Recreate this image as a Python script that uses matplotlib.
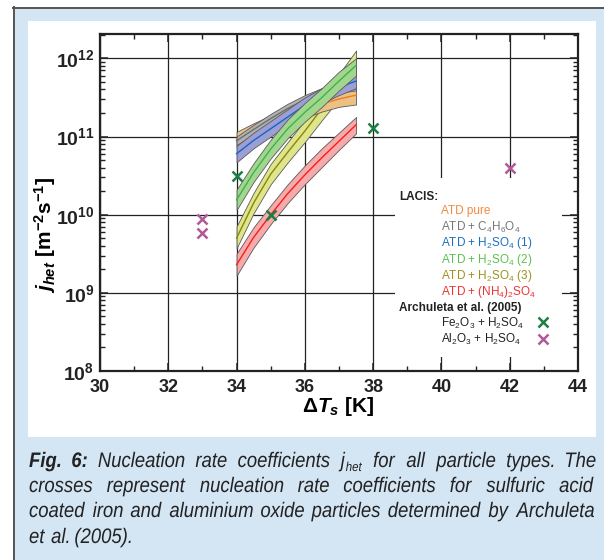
import numpy as np
import matplotlib
matplotlib.use("Agg")
import matplotlib.pyplot as plt
from matplotlib.patches import Rectangle, PathPatch
from matplotlib.lines import Line2D
from matplotlib.textpath import TextPath
from matplotlib.font_manager import FontProperties
from matplotlib.transforms import Affine2D
from matplotlib.ticker import FixedLocator, LogLocator, NullFormatter

plt.rcParams['font.family'] = ['Liberation Sans', 'DejaVu Sans']
plt.rcParams['mathtext.fontset'] = 'custom'
plt.rcParams['mathtext.rm'] = 'Liberation Sans'
plt.rcParams['mathtext.bf'] = 'Liberation Sans:bold'
plt.rcParams['mathtext.it'] = 'Liberation Sans:italic:bold'
plt.rcParams['mathtext.default'] = 'regular'

# ---- data (log10 of j_het) ----
T_band = [34, 34.5, 35, 35.5, 36, 36.5, 37, 37.5]

pure_mid = [10.96, 11.07, 11.17, 11.26, 11.34, 11.42, 11.48, 11.53]
pure_lo = [10.86, 10.97, 11.07, 11.16, 11.24, 11.32, 11.38, 11.41]
pure_hi = [11.06, 11.17, 11.27, 11.36, 11.44, 11.52, 11.58, 11.63]

c4_mid = [10.945, 11.09, 11.23, 11.36, 11.47, 11.56, 11.59, 11.61]
c4_lo = [10.89, 11.03, 11.17, 11.30, 11.41, 11.51, 11.56, 11.59]
c4_hi = [11.00, 11.15, 11.29, 11.42, 11.53, 11.62, 11.63, 11.63]

h1_mid = [10.78, 10.95, 11.10, 11.25, 11.40, 11.53, 11.63, 11.71]
h1_lo = [10.67, 10.85, 11.00, 11.15, 11.30, 11.43, 11.53, 11.62]
h1_hi = [10.88, 11.05, 11.20, 11.35, 11.50, 11.62, 11.72, 11.80]

h2_mid = [10.19, 10.54, 10.84, 11.10, 11.31, 11.50, 11.71, 11.91]
h2_lo = [10.06, 10.42, 10.72, 10.98, 11.19, 11.38, 11.59, 11.78]
h2_hi = [10.32, 10.66, 10.96, 11.22, 11.43, 11.62, 11.83, 12.00]

h3_mid = [9.70, 10.15, 10.52, 10.80, 11.07, 11.36, 11.64, 11.95]
h3_lo = [9.57, 10.02, 10.39, 10.67, 10.93, 11.21, 11.48, 11.78]
h3_hi = [9.85, 10.28, 10.65, 10.93, 11.21, 11.51, 11.80, 12.10]

nh4_mid = [9.36, 9.71, 10.00, 10.27, 10.51, 10.73, 10.94, 11.15]
nh4_lo = [9.22, 9.58, 9.88, 10.15, 10.39, 10.61, 10.83, 11.04]
nh4_hi = [9.50, 9.84, 10.12, 10.39, 10.63, 10.85, 11.05, 11.25]

fe_T = [34, 35, 38]
fe_j = [3.1e10, 1.0e10, 1.3e11]
al_T = [33, 33, 42]
al_j = [8.9e9, 5.9e9, 4.0e10]

x_ticks = [30, 32, 34, 36, 38, 40, 42, 44]
y_decades = [8, 9, 10, 11, 12]

fig = plt.figure(figsize=(6.04, 5.6), dpi=100, facecolor='white')
W, H = 604.0, 560.0


def fx(px):
    return px / W


def fy(py):
    return 1 - py / H


# page background: blue box with dark top/left rule, white panel for the plot
fig.patches.append(Rectangle((fx(14), 0), fx(590), fy(8), transform=fig.transFigure,
                             fc='#d4e5f4', ec='none', zorder=-10))
fig.patches.append(Rectangle((fx(28), fy(437)), fx(596 - 28), (437 - 21) / H,
                             transform=fig.transFigure, fc='white', ec='none', zorder=-9))
fig.add_artist(Line2D([fx(13), 1], [fy(7.5), fy(7.5)], color='#555555', lw=1.4))
fig.add_artist(Line2D([fx(13.5), fx(13.5)], [fy(7), 0], color='#555555', lw=1.4))

ax = fig.add_axes([fx(100), fy(371), (578 - 100) / W, (371 - 34) / H])
ax.set_facecolor('white')

bands = [
    (h3_lo, h3_mid, h3_hi, '#dfe68a', '#8c8410'),
    (pure_lo, pure_mid, pure_hi, '#ebc283', '#f07a20'),
    (c4_lo, c4_mid, c4_hi, '#b2b2b2', '#6e6e6e'),
    (h1_lo, h1_mid, h1_hi, '#9c9fd6', '#1565c0'),
    (h2_lo, h2_mid, h2_hi, '#a2d68f', '#3cb44a'),
    (nh4_lo, nh4_mid, nh4_hi, '#f8aaaa', '#f02020'),
]
for k, (lo, mid, hi, fc, lc) in enumerate(bands):
    z = 2 + k * 0.1
    ax.fill_between(T_band, 10 ** np.array(lo), 10 ** np.array(hi), facecolor=fc,
                    edgecolor='#5a5a5a', linewidth=0.6, zorder=z)
    ax.plot(T_band, 10 ** np.array(mid), color=lc, lw=1.0, zorder=z + 0.05)

ax.plot(fe_T, fe_j, 'x', color='#1b7f45', ms=7, mew=1.8, zorder=5, clip_on=False)
ax.plot(al_T, al_j, 'x', color='#b0589a', ms=7, mew=1.8, zorder=5, clip_on=False)

ax.set_yscale('log')
ax.set_xlim(30, 44)
ax.set_ylim(1e8, 2.05e12)
ax.xaxis.set_major_locator(FixedLocator(x_ticks))
ax.xaxis.set_minor_locator(FixedLocator([31, 33, 35, 37, 39, 41, 43]))
ax.set_xticklabels([str(t) for t in x_ticks], fontsize=13, fontweight='bold')
ax.yaxis.set_major_locator(FixedLocator([10.0 ** d for d in y_decades]))
ax.yaxis.set_minor_locator(LogLocator(base=10, subs=np.arange(2, 10)))
ax.yaxis.set_minor_formatter(NullFormatter())
ax.set_yticklabels([r'$\mathbf{10^{%d}}$' % d for d in y_decades], fontsize=14)

ax.tick_params(which='both', direction='in', top=True, right=True, colors='#222222')
ax.tick_params(which='major', length=6, width=1.1, pad=4)
ax.tick_params(which='minor', length=3.5, width=1.0)
ax.tick_params(axis='x', which='major', pad=6)
for s in ax.spines.values():
    s.set_linewidth(1.6)
    s.set_color('#222222')
ax.grid(True, which='major', color='#222222', lw=0.9)
ax.set_axisbelow(True)

# axis labels
fig.text(fx(45), fy(235), r'$\mathit{j}_{\mathit{het}}\ \mathbf{[m^{-2}s^{-1}]}$',
         rotation=90, ha='center', va='center', fontsize=15)
fig.text(fx(338), fy(406), r'$\mathbf{\Delta}\mathit{T}_{\mathit{s}}\ \mathbf{[K]}$',
         ha='center', va='center', fontsize=15)

# legend (drawn by hand on a white patch)
ax.add_patch(Rectangle((fx(395), fy(357)), (562 - 395) / W, (357 - 178) / H,
                       transform=fig.transFigure, fc='white', ec='none', zorder=1.5))
fig.text(fx(399), fy(197), 'LACIS:', fontsize=8.5, fontweight='bold', va='center', color='#222222')
legend_rows = [
    ('ATD pure', '#f28a3c'),
    ('ATD + C$_4$H$_6$O$_4$', '#777777'),
    ('ATD + H$_2$SO$_4$ (1)', '#1a6fc0'),
    ('ATD + H$_2$SO$_4$ (2)', '#5cc050'),
    ('ATD + H$_2$SO$_4$ (3)', '#a09020'),
    ('ATD + (NH$_4$)$_2$SO$_4$', '#f03232'),
]
for i, (lab, c) in enumerate(legend_rows):
    fig.text(fx(441), fy(211 + i * 16.2), lab, fontsize=8.5, color=c, va='center')
fig.text(fx(399), fy(308), 'Archuleta et al. (2005)', fontsize=8.5, fontweight='bold',
         va='center', color='#222222')
fig.text(fx(441), fy(323), 'Fe$_2$O$_3$ + H$_2$SO$_4$', fontsize=8.5, va='center', color='#222222')
fig.text(fx(441), fy(339), 'Al$_2$O$_3$ + H$_2$SO$_4$', fontsize=8.5, va='center', color='#222222')
fig.add_artist(Line2D([fx(543)], [fy(322)], marker='x', color='#1b7f45', ms=6.5, mew=1.8))
fig.add_artist(Line2D([fx(543)], [fy(339)], marker='x', color='#b0589a', ms=6.5, mew=1.8))

# caption: condensed italic drawn as squeezed text paths, justified by hand
fp_it = FontProperties(family='Liberation Sans', style='italic')
fp_bi = FontProperties(family='Liberation Sans', style='italic', weight='bold')
SQ = 0.88      # horizontal squeeze -> condensed look
SZ = 21.0      # text size in pixels


def caption_line(words, py, justify, x0=29, x1=590):
    items = []
    total = 0
    for word in words:
        segs = []
        for s, size, dy, bold in word:
            tp = TextPath((0, 0), s, size=size, prop=fp_bi if bold else fp_it)
            w = tp.get_extents().x1 * SQ
            segs.append((tp, w, dy))
            total += w
        items.append(segs)
    gap = (x1 - x0 - total) / (len(words) - 1) if justify else 0.3 * SZ * SQ
    x = x0
    for segs in items:
        for tp, w, dy in segs:
            tr = Affine2D().scale(SQ, 1).translate(x, H - py - dy)
            fig.add_artist(PathPatch(tp, transform=tr, fc='#222222', ec='none', lw=0))
            x += w + 0.5
        x += gap


def plain(s, bold=False):
    return [[(w, SZ, 0, bold)] for w in s.split()]


line1 = plain('Fig. 6:', True) + plain('Nucleation rate coefficients') + \
    [[('j', SZ, 0, False), ('het', SZ * 0.62, 4, False)]] + \
    plain('for all particle types. The')
caption_line(line1, 467, True)
caption_line(plain('crosses represent nucleation rate coefficients for sulfuric acid'), 492, True)
caption_line(plain('coated iron and aluminium oxide particles determined by Archuleta'), 517, True)
caption_line(plain('et al. (2005).'), 543, False)

fig.savefig('out.png', dpi=100, facecolor=fig.get_facecolor())
